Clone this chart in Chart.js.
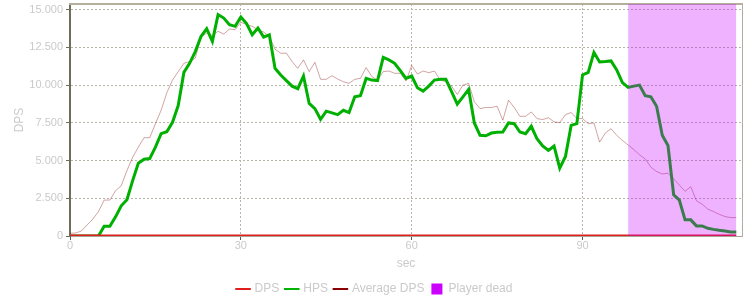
<!DOCTYPE html>
<html>
<head>
<meta charset="utf-8">
<script src="https://cdn.jsdelivr.net/npm/chart.js@4.4.1/dist/chart.umd.min.js"></script>
<style>
body { margin: 0; background: #fff; }
#wrap { width: 750px; height: 300px; }
</style>
</head>
<body>
<div id="wrap"><canvas id="PlotCanvas"></canvas></div>
<script>
// one value per second, 0..117
var dpsValues = [
    0, 0, 0, 0, 0, 0, 0, 0, 0, 0, 0, 0, 0, 0, 0, 0, 0, 0, 0, 0,
    0, 0, 0, 0, 0, 0, 0, 0, 0, 0, 0, 0, 0, 0, 0, 0, 0, 0, 0, 0,
    0, 0, 0, 0, 0, 0, 0, 0, 0, 0, 0, 0, 0, 0, 0, 0, 0, 0, 0, 0,
    0, 0, 0, 0, 0, 0, 0, 0, 0, 0, 0, 0, 0, 0, 0, 0, 0, 0, 0, 0,
    0, 0, 0, 0, 0, 0, 0, 0, 0, 0, 0, 0, 0, 0, 0, 0, 0, 0, 0, 0,
    0, 0, 0, 0, 0, 0, 0, 0, 0, 0, 0, 0, 0, 0, 0, 0, 0, 0
];
var hpsValues = [
    0, 0, 0, 0, 0, 0, 644, 644, 1267, 2000,
    2400, 3670, 4820, 5090, 5130, 5890, 6780, 6910, 7530, 8640,
    10840, 11440, 12220, 13220, 13730, 12890, 14670, 14440, 14000, 13890,
    14510, 14070, 13330, 13780, 13180, 13330, 11110, 10670, 10290, 9930,
    9760, 10600, 8780, 8440, 7730, 8270, 8160, 8040, 8330, 8180,
    9220, 9290, 10440, 10330, 10290, 11840, 11670, 11440, 10960, 10440,
    10600, 9820, 9600, 9930, 10330, 10380, 10380, 9560, 8730, 9220,
    9710, 7490, 6670, 6640, 6820, 6870, 6890, 7490, 7440, 6890,
    6780, 7270, 6440, 5960, 5670, 5960, 4490, 5270, 7330, 7440,
    10670, 10840, 12160, 11530, 11560, 11600, 11000, 10160, 9840, 9930,
    10000, 9290, 9220, 8600, 6670, 6000, 2730, 2380, 1070, 1070,
    670, 670, 510, 440, 380, 330, 270, 270
];
var avgDpsValues = [
    180, 200, 330, 730, 1110, 1620, 2380, 2380, 3000, 3330,
    4330, 5220, 5890, 6510, 6510, 7440, 8330, 9490, 10330, 10890,
    11440, 11560, 11780, 13180, 13440, 13300, 13560, 13380, 13710, 13670,
    14160, 14000, 13890, 13670, 13510, 13220, 12380, 12110, 12110, 11560,
    11110, 11670, 10890, 11510, 10380, 10380, 10620, 10400, 10220, 10110,
    10380, 10440, 11160, 10560, 10330, 10890, 10930, 10780, 10780, 10270,
    11290, 10730, 10930, 10820, 10930, 10330, 10220, 9930, 9380, 10000,
    10110, 8890, 8440, 8510, 8510, 8600, 7670, 9000, 8510, 7930,
    7930, 8220, 7780, 7710, 7840, 7560, 7510, 8040, 8180, 7780,
    7780, 7440, 7490, 6220, 6820, 7110, 6670, 6330, 6030, 5730,
    5380, 5110, 4560, 4270, 4110, 4160, 3780, 3380, 2960, 3270,
    2330, 2110, 1780, 1620, 1440, 1290, 1220, 1220
];
var deadFrom = 98;
var deadTo = 117;

var xTicks = [0, 30, 60, 90];
var yTicks = [0, 2500, 5000, 7500, 10000, 12500, 15000];
var xMax = 118;
var yMax = 15370;

var textColor = '#cacaca';
var gridColor = '#b8b5a6';

function toPoints(values) {
    return values.map((value, index) => ({ x: index, y: value }));
}

function formatThousands(v) {
    return String(v).replace(/\B(?=(\d{3})+(?!\d))/g, '.');
}

// how each entry looks in the legend
var legendLooks = [
    { pointStyle: 'line', strokeStyle: '#e01e1e', lineWidth: 2 },
    { pointStyle: 'line', strokeStyle: '#00b400', lineWidth: 2 },
    { pointStyle: 'line', strokeStyle: '#8b0000', lineWidth: 2 },
    { pointStyle: 'rect', fillStyle: '#cc00ff', strokeStyle: '#cc00ff', lineWidth: 0 }
];

Chart.defaults.font.family = 'Arial, "Liberation Sans", sans-serif';

var ctx = document.getElementById('PlotCanvas').getContext('2d');
var chart = new Chart(ctx, {
    type: 'line',
    data: {
        datasets: [{
            label: 'DPS',
            data: toPoints(dpsValues),
            borderColor: '#e01e1e',
            borderWidth: 3,
            pointRadius: 0,
            order: 1
        }, {
            label: 'HPS',
            data: toPoints(hpsValues),
            borderColor: '#00b000',
            borderWidth: 3,
            pointRadius: 0,
            order: 1
        }, {
            label: 'Average DPS',
            data: toPoints(avgDpsValues),
            borderColor: 'rgba(128, 0, 0, 0.36)',
            borderWidth: 1,
            pointRadius: 0,
            order: 1
        }, {
            label: 'Player dead',
            data: [{ x: deadFrom, y: yMax }, { x: deadTo, y: yMax }],
            borderColor: 'transparent',
            borderWidth: 0,
            backgroundColor: 'rgba(200, 0, 255, 0.3)',
            fill: 'origin',
            pointRadius: 0,
            order: 0 // drawn over the lines
        }]
    },
    options: {
        responsive: true,
        maintainAspectRatio: false,
        animation: false,
        layout: { padding: { left: 0, right: 0, top: 4, bottom: -5 } },
        scales: {
            x: {
                type: 'linear',
                min: 0,
                max: xMax,
                afterBuildTicks: (scale) => { scale.ticks = xTicks.map(v => ({ value: v })); },
                afterFit: (scale) => { scale.height = 40; scale.paddingLeft = 0; scale.paddingRight = 0; },
                ticks: { color: textColor, font: { size: 11 }, padding: -1, maxRotation: 0 },
                grid: { color: gridColor, tickColor: '#555548', tickLength: 4 },
                border: { color: '#a8a596', width: 1, dash: [2, 2] },
                title: { display: true, text: 'sec', color: textColor, font: { size: 12 }, padding: { top: 0, bottom: 5 } }
            },
            y: {
                type: 'linear',
                min: 0,
                max: yMax,
                afterBuildTicks: (scale) => { scale.ticks = yTicks.map(v => ({ value: v })); },
                afterFit: (scale) => { scale.width = 70; scale.paddingTop = 0; scale.paddingBottom = 0; },
                ticks: { color: textColor, font: { size: 11 }, padding: 3, callback: (v) => formatThousands(v) },
                grid: { color: gridColor, tickColor: '#6d6a55', tickLength: 4 },
                border: { color: '#706c58', width: 2, dash: [2, 2] },
                title: { display: true, text: 'DPS', color: textColor, font: { size: 12 }, padding: { top: 12, bottom: 0 } }
            },
            xTop: {
                type: 'linear',
                position: 'top',
                ticks: { display: false },
                grid: { display: false, drawTicks: false },
                border: { color: '#b4b09c', width: 2 },
                afterFit: (scale) => { scale.height = 0; scale.paddingLeft = 0; scale.paddingRight = 0; }
            },
            yRight: {
                type: 'linear',
                position: 'right',
                ticks: { display: false },
                grid: { display: false, drawTicks: false },
                border: { color: '#b0aea4', width: 1 },
                afterFit: (scale) => { scale.width = 8; scale.paddingTop = 0; scale.paddingBottom = 0; }
            }
        },
        plugins: {
            tooltip: { enabled: false },
            legend: {
                position: 'bottom',
                labels: {
                    usePointStyle: true,
                    boxWidth: 11,
                    boxHeight: 11,
                    padding: 7,
                    color: textColor,
                    font: { size: 12 },
                    sort: (a, b) => a.datasetIndex - b.datasetIndex,
                    generateLabels: function (chart) {
                        var items = Chart.defaults.plugins.legend.labels.generateLabels(chart);
                        items.forEach(item => Object.assign(item, legendLooks[item.datasetIndex]));
                        return items;
                    }
                }
            }
        }
    }
});
</script>
</body>
</html>
